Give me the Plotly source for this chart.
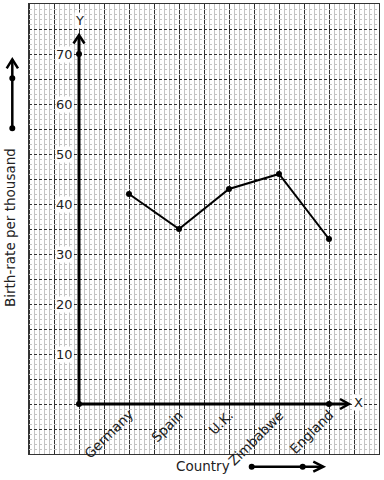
import plotly.graph_objects as go

countries = ["Germany", "Spain", "U.K.", "Zimbabwe", "England"]
birth_rate = [42, 35, 43, 46, 33]
y_tick_values = [10, 20, 30, 40, 50, 60, 70]
x_positions = list(range(1, len(countries) + 1))
axis_marks_x = [0, 0, 5]
axis_marks_y = [0, 70, 0]

W, H = 384, 480
ML, MR, MT, MB = 29, 5, 4, 26
PW, PH = W - ML - MR, H - MT - MB
X_RANGE = [-1, 6]
Y_RANGE = [-10, 80]
HALF_PX_X = 0.5 * (X_RANGE[1] - X_RANGE[0]) / PW


def px(xp):
    return (xp - ML) / PW


def py(yp):
    return (H - MB - yp) / PH


FONT = "DejaVu Sans"
TXT = "#222222"

# graph-paper grid values (major and minor, minor excludes majors)
x_major = [k / 2 for k in range(X_RANGE[0] * 2, X_RANGE[1] * 2 + 1)]
x_minor = [k / 10 for k in range(X_RANGE[0] * 10, X_RANGE[1] * 10 + 1) if k % 5 != 0]
y_major = list(range(Y_RANGE[0], Y_RANGE[1] + 1, 5))
y_minor = [k for k in range(Y_RANGE[0], Y_RANGE[1] + 1) if k % 5 != 0]

fig = go.Figure()

shapes = []
# major vertical grid lines drawn explicitly (pixel-aligned) above the minor grid
for xv in x_major:
    shapes.append(dict(type="line", xref="x", yref="paper",
                       x0=xv + HALF_PX_X, x1=xv + HALF_PX_X, y0=0, y1=1,
                       layer="between", line=dict(color="#333333", width=1)))

# data line
fig.add_trace(go.Scatter(
    x=x_positions, y=birth_rate, mode="lines+markers",
    line=dict(color="black", width=2),
    marker=dict(size=6, color="black"),
    cliponaxis=False, showlegend=False, hoverinfo="skip"))

# axes
shapes.append(dict(type="line", xref="x", yref="y", x0=0, y0=0, x1=0, y1=73.6,
                   line=dict(color="black", width=3)))
shapes.append(dict(type="line", xref="x", yref="y", x0=0, y0=0, x1=5.38, y1=0,
                   line=dict(color="black", width=3)))
shapes.append(dict(type="path", xref="x", yref="y",
                   path="M -0.11,72.1 L 0,73.8 L 0.11,72.1",
                   line=dict(color="black", width=2.5)))
shapes.append(dict(type="path", xref="x", yref="y",
                   path="M 5.22,1.0 L 5.4,0 L 5.22,-1.0",
                   line=dict(color="black", width=2.5)))

# axis marker dots
fig.add_trace(go.Scatter(
    x=axis_marks_x, y=axis_marks_y, mode="markers",
    marker=dict(size=6, color="black"),
    cliponaxis=False, showlegend=False, hoverinfo="skip"))

# side arrow (y title)
shapes.append(dict(type="line", xref="paper", yref="paper",
                   x0=px(12.3), y0=py(128.3), x1=px(12.3), y1=py(59.5),
                   line=dict(color="black", width=2.5)))
shapes.append(dict(type="path", xref="paper", yref="paper",
                   path=f"M {px(6.7)},{py(68.3)} L {px(12.3)},{py(59.3)} L {px(18.0)},{py(68.3)}",
                   line=dict(color="black", width=2.5)))
# bottom arrow (x title)
shapes.append(dict(type="line", xref="paper", yref="paper",
                   x0=px(251.7), y0=py(466.7), x1=px(323), y1=py(466.7),
                   line=dict(color="black", width=2.5)))
shapes.append(dict(type="path", xref="paper", yref="paper",
                   path=f"M {px(313.3)},{py(461.7)} L {px(323.3)},{py(466.7)} L {px(313.3)},{py(471.7)}",
                   line=dict(color="black", width=2.5)))
for (ax_, ay_) in [(12.3, 78.3), (12.3, 128.3), (251.7, 466.7), (302.7, 466.7)]:
    shapes.append(dict(type="circle", xref="paper", yref="paper",
                       xsizemode="pixel", ysizemode="pixel",
                       xanchor=px(ax_), yanchor=py(ay_),
                       x0=-3, x1=3, y0=-3, y1=3,
                       fillcolor="black", line=dict(width=0)))

annotations = []
for v in y_tick_values:
    annotations.append(dict(x=0, y=v, xref="x", yref="y", text=str(v),
                            showarrow=False, xanchor="right", yanchor="middle",
                            xshift=-5, bgcolor="white", borderpad=0,
                            font=dict(family=FONT, size=13, color=TXT)))
for xi, name in zip(x_positions, countries):
    annotations.append(dict(x=xi, y=0, xref="x", yref="y", text=name,
                            showarrow=False, xanchor="right", yanchor="top",
                            textangle=-45, xshift=10, yshift=0,
                            font=dict(family=FONT, size=13.5, color=TXT)))
annotations.append(dict(x=0, y=76.7, xref="x", yref="y", text="Y",
                        showarrow=False, bgcolor="white", borderpad=0,
                        font=dict(family=FONT, size=13, color=TXT)))
annotations.append(dict(x=5.59, y=0.3, xref="x", yref="y", text="X",
                        showarrow=False, bgcolor="white", borderpad=0,
                        font=dict(family=FONT, size=13, color=TXT)))
annotations.append(dict(x=px(10), y=py(228), xref="paper", yref="paper",
                        text="Birth-rate per thousand", textangle=-90,
                        showarrow=False, xanchor="center", yanchor="middle",
                        font=dict(family=FONT, size=13.5, color=TXT)))
annotations.append(dict(x=px(203), y=py(466), xref="paper", yref="paper",
                        text="Country", showarrow=False,
                        xanchor="center", yanchor="middle",
                        font=dict(family=FONT, size=13.5, color=TXT)))

fig.update_layout(
    width=W, height=H,
    margin=dict(l=ML, r=MR, t=MT, b=MB, pad=0),
    paper_bgcolor="white", plot_bgcolor="white",
    shapes=shapes, annotations=annotations,
    xaxis=dict(range=X_RANGE, tickmode="array", tickvals=x_major, showgrid=False,
               minor=dict(tickmode="array", tickvals=x_minor, showgrid=True,
                          gridcolor="#c4c4c4", gridwidth=1),
               showticklabels=False, ticks="", zeroline=False,
               showline=True, mirror=True, linecolor="#333333", linewidth=1,
               fixedrange=True),
    yaxis=dict(range=Y_RANGE, tickmode="array", tickvals=y_major, showgrid=True,
               gridcolor="#333333", gridwidth=1, griddash="3px,2px",
               minor=dict(tickmode="array", tickvals=y_minor, showgrid=True,
                          gridcolor="#c4c4c4", gridwidth=1),
               showticklabels=False, ticks="", zeroline=False,
               showline=True, mirror=True, linecolor="#333333", linewidth=1,
               fixedrange=True),
    font=dict(family=FONT, color=TXT),
)

fig.write_html("out.html", config=dict(staticPlot=True),
               post_script="document.body.style.margin='0';document.body.style.overflow='hidden';")
